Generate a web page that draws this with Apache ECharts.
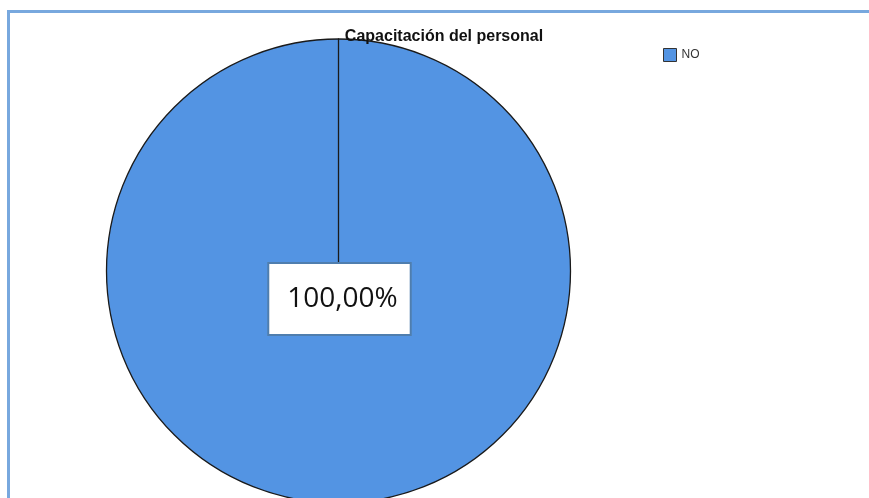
<!DOCTYPE html>
<html>
<head>
<meta charset="utf-8">
<script src="https://cdn.jsdelivr.net/npm/echarts@6/dist/echarts.min.js"></script>
<style>
    html, body { margin: 0; padding: 0; background: #fff; }
    #chart { position: absolute; left: 0; top: 0; width: 869px; height: 498px; }
    /* marco azul del visor */
    .frame { position: absolute; left: 7px; top: 10px; width: 900px; height: 600px;
             border-left: 3px solid #78a8de; border-top: 3px solid #78a8de; pointer-events: none; }
</style>
</head>
<body>
<div id="chart"></div>
<div class="frame"></div>
<script>
    // datos del gráfico
    var categories = ['NO'];
    var values = [100];
    var labelText = ['100,00%'];

    var chart = echarts.init(document.getElementById('chart'));

    // sector vacío (valor 0) solo para dibujar la línea radial de inicio
    var pieData = categories.map(function (c, i) {
        return { name: c, value: values[i] };
    });
    pieData.push({ name: '', value: 0, label: { show: false } });

    chart.setOption({
        animation: false,
        title: {
            text: 'Capacitación del personal',
            left: 439,
            top: 24,
            textAlign: 'center',
            textStyle: { fontFamily: 'Liberation Sans', fontSize: 16, fontWeight: 'bold', color: '#111' }
        },
        legend: {
            data: categories,
            left: 663,
            top: 48,
            padding: 0,
            itemWidth: 13,
            itemHeight: 13,
            icon: 'rect',
            itemStyle: { borderColor: '#333', borderWidth: 1 },
            textStyle: { fontFamily: 'Liberation Sans', fontSize: 12, color: '#333' }
        },
        series: [
            {
                name: 'Capacitación del personal',
                type: 'pie',
                center: [338.5, 271],
                radius: 232,
                startAngle: 90,
                clockwise: true,
                minAngle: 0,
                avoidLabelOverlap: false,
                itemStyle: { color: '#5394e3', borderColor: '#1a1a1a', borderWidth: 1.3 },
                emphasis: { disabled: true },
                label: {
                    show: true,
                    position: 'center',
                    offset: [1, 28],
                    formatter: function (p) { return labelText[p.dataIndex] || ''; },
                    fontFamily: 'Open Sans',
                    fontSize: 28,
                    lineHeight: 30,
                    color: '#111',
                    backgroundColor: '#fff',
                    borderColor: '#4f7eae',
                    borderWidth: 2,
                    padding: [20, 12, 20, 18]
                },
                labelLine: { show: false },
                data: pieData
            }
        ]
    });
</script>
</body>
</html>
